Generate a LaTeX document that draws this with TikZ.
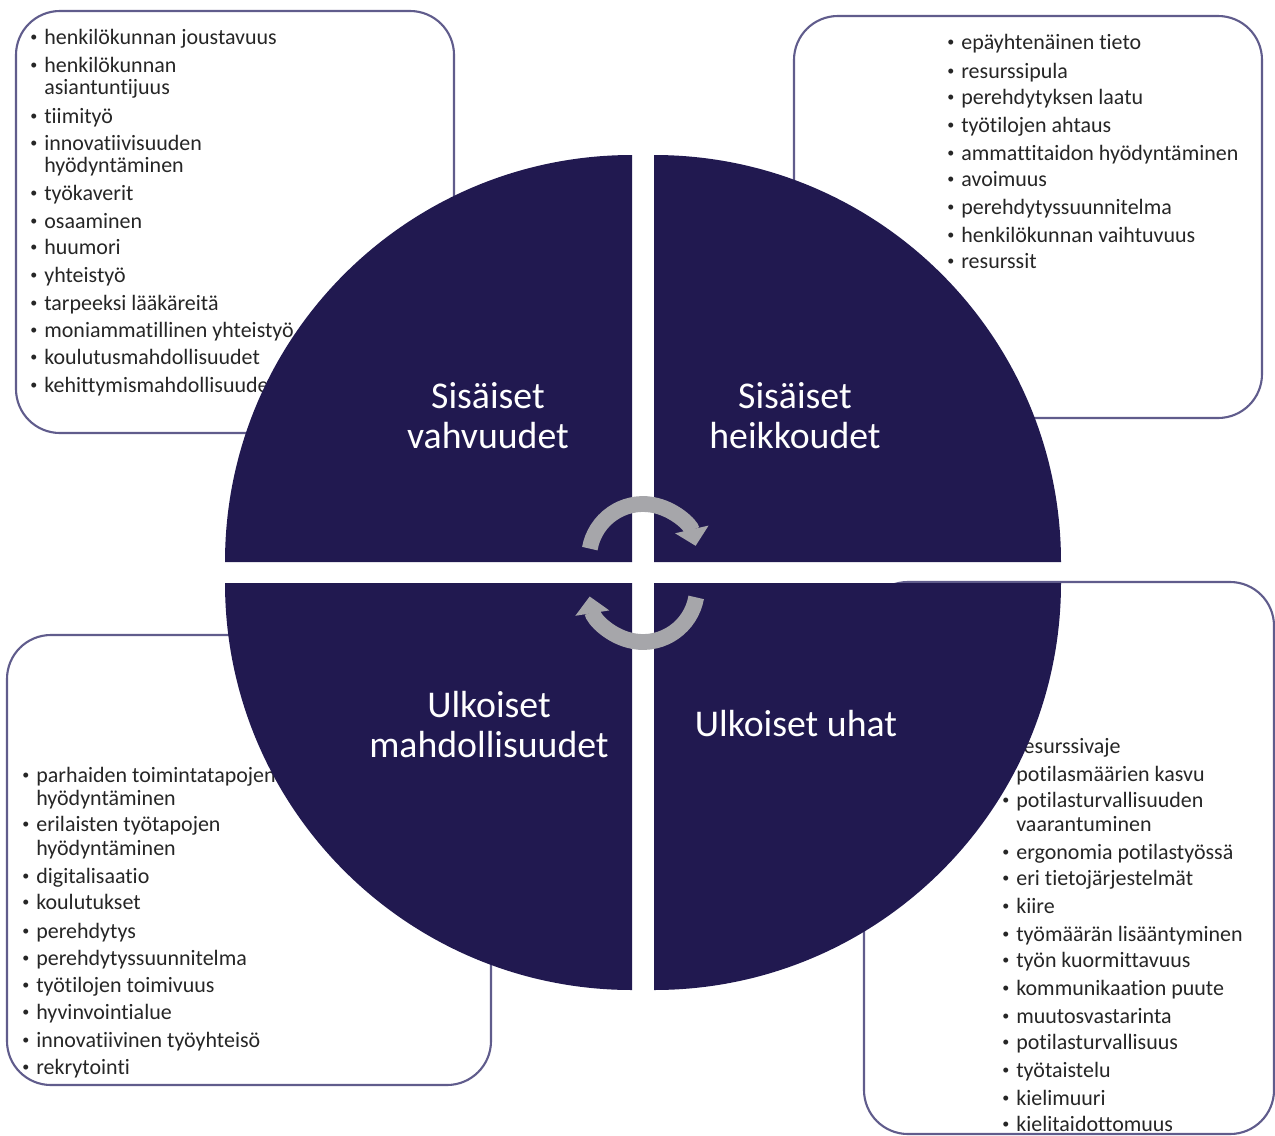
\documentclass[tikz,border=0pt]{standalone}
\usepackage{fontspec}
\setmainfont[Ligatures=NoCommon]{Carlito}
\usetikzlibrary{arrows.meta}
\definecolor{navy}{RGB}{33,25,80}
\definecolor{boxline}{RGB}{96,92,140}
\definecolor{arrowgray}{RGB}{166,166,170}
\definecolor{itemtext}{RGB}{38,38,38}
\newcommand\bul{\llap{\raisebox{0.3ex}{\fontsize{8}{8}\selectfont\textbullet}\hspace{4pt}}}
\begin{document}
\begin{tikzpicture}[x=0.02cm,y=-0.02cm,
  listbox/.style={draw=boxline, line width=1.2pt, fill=white, rounded corners=25pt},
  sector/.style={fill=navy},
  itemline/.style={anchor=mid west, inner sep=0pt, yshift=-1.3pt, font=\fontsize{12.5}{12.5}\selectfont, text=itemtext},
  title/.style={anchor=base, inner sep=0pt, font=\fontsize{21.5}{22.7}\selectfont, text=white},
  cyc/.style={draw=arrowgray, line width=9pt, -{Triangle[length=9.6pt,width=19pt]}}]
\useasboundingbox (0,0) rectangle (1275,1136);
\fill[white] (0,0) rectangle (1275,1136);
% list boxes
\draw[listbox] (16,11) rectangle (454,433);
\draw[listbox] (794,16) rectangle (1262,418);
\draw[listbox] (7,635) rectangle (491,1085);
\draw[listbox] (864,582) rectangle (1274,1134);
% top-left items
\foreach \y/\t [count=\i] in {
  38/{\bul henkilökunnan joustavuus},
  66/{\bul henkilökunnan},
  88/{asiantuntijuus},
  117/{\bul tiimityö},
  144/{\bul innovatiivisuuden},
  166/{hyödyntäminen},
  194/{\bul työkaverit},
  222/{\bul osaaminen},
  248/{\bul huumori},
  276/{\bul yhteistyö},
  304/{\bul tarpeeksi lääkäreitä},
  331/{\bul moniammatillinen yhteistyö},
  358/{\bul koulutusmahdollisuudet},
  386/{\bul kehittymismahdollisuudet}}
  \node[itemline] (tl\i) at (44,\y) {\t};
% top-right items
\foreach \y/\t [count=\i] in {
  43/{\bul epäyhtenäinen tieto},
  72/{\bul resurssipula},
  98/{\bul perehdytyksen laatu},
  126/{\bul työtilojen ahtaus},
  154/{\bul ammattitaidon hyödyntäminen},
  180/{\bul avoimuus},
  208/{\bul perehdytyssuunnitelma},
  236/{\bul henkilökunnan vaihtuvuus},
  262/{\bul resurssit}}
  \node[itemline] (tr\i) at (961,\y) {\t};
% bottom-left items
\foreach \y/\t [count=\i] in {
  776/{\bul parhaiden toimintatapojen},
  799/{hyödyntäminen},
  825/{\bul erilaisten työtapojen},
  849/{hyödyntäminen},
  877/{\bul digitalisaatio},
  903/{\bul koulutukset},
  932/{\bul perehdytys},
  959/{\bul perehdytyssuunnitelma},
  986/{\bul työtilojen toimivuus},
  1013/{\bul hyvinvointialue},
  1041/{\bul innovatiivinen työyhteisö},
  1068/{\bul rekrytointi}}
  \node[itemline] (bl\i) at (36,\y) {\t};
% bottom-right items
\foreach \y/\t [count=\i] in {
  747/{\bul resurssivaje},
  775/{\bul potilasmäärien kasvu},
  801/{\bul potilasturvallisuuden},
  825/{vaarantuminen},
  853/{\bul ergonomia potilastyössä},
  879/{\bul eri tietojärjestelmät},
  907/{\bul kiire},
  935/{\bul työmäärän lisääntyminen},
  961/{\bul työn kuormittavuus},
  989/{\bul kommunikaation puute},
  1017/{\bul muutosvastarinta},
  1043/{\bul potilasturvallisuus},
  1071/{\bul työtaistelu},
  1099/{\bul kielimuuri},
  1125/{\bul kielitaidottomuus}}
  \node[itemline] (br\i) at (1016,\y) {\t};
% sectors
\fill[sector] (632,562) -- (225,562) arc[start angle=180,end angle=270,radius=407] -- cycle;
\fill[sector] (654,562) -- (654,155) arc[start angle=270,end angle=360,radius=407] -- cycle;
\fill[sector] (654,583) -- (1061,583) arc[start angle=0,end angle=90,radius=407] -- cycle;
\fill[sector] (632,583) -- (632,990) arc[start angle=90,end angle=180,radius=407] -- cycle;
% titles
\node[title] (s1a) at (488,408) {Sisäiset};
\node[title] (s1b) at (488,448) {vahvuudet};
\node[title] (s2a) at (795,408) {Sisäiset};
\node[title] (s2b) at (795,448) {heikkoudet};
\node[title] (s3a) at (489,717) {Ulkoiset};
\node[title] (s3b) at (489,757) {mahdollisuudet};
\node[title] (s4) at (796,736) {Ulkoiset uhat};
% cycle arrows
\coordinate (c1) at (643,558);
\coordinate (c2) at (643,588);
\draw[cyc] ([shift={(190:54)}]c1) arc[start angle=190,end angle=347,radius=54];
\draw[cyc] ([shift={(10:54)}]c2) arc[start angle=10,end angle=171,radius=54];
\end{tikzpicture}
\end{document}
